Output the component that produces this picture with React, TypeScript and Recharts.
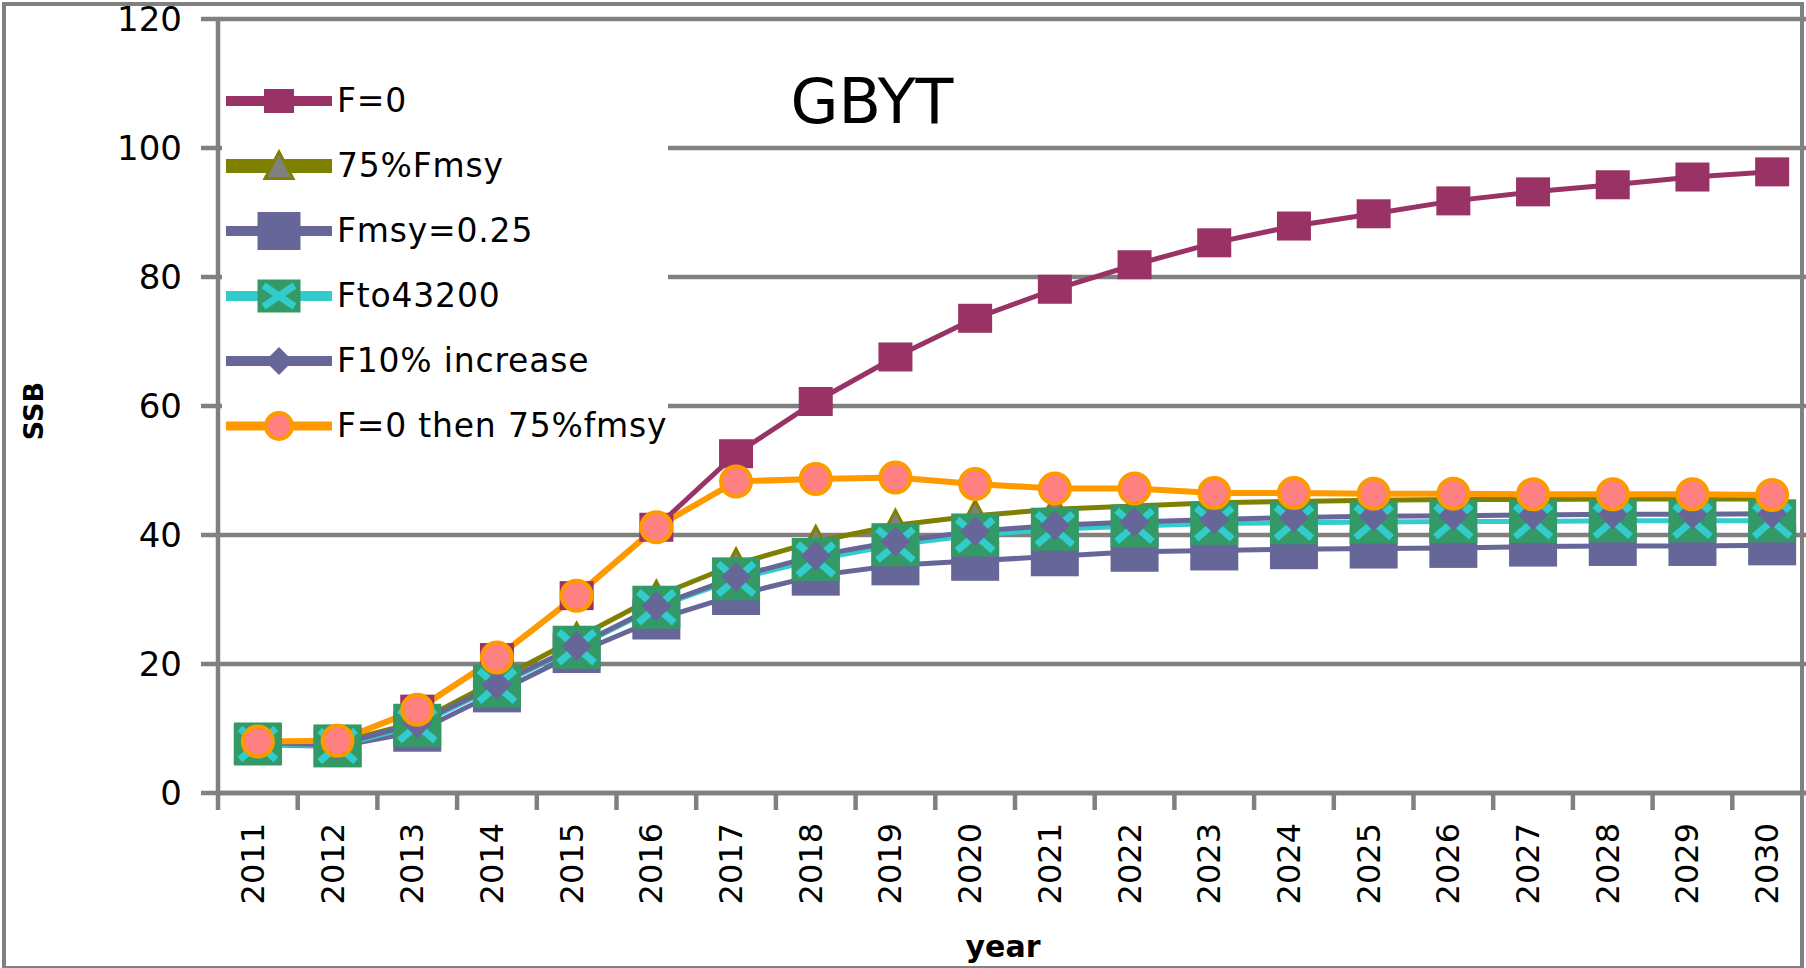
import { LineChart, Line, XAxis, YAxis, CartesianGrid, Legend } from 'recharts'

const years = ['2011', '2012', '2013', '2014', '2015', '2016', '2017', '2018', '2019', '2020',
    '2021', '2022', '2023', '2024', '2025', '2026', '2027', '2028', '2029', '2030']

const f0 = [8, 8, 13, 21, 30.6, 41.2, 52.6, 60.7, 67.6, 73.6, 78.1, 81.9, 85.3, 87.9, 89.8, 91.8, 93.2, 94.3, 95.5, 96.3]
const f75 = [8, 7.8, 11, 17.5, 24, 30.5, 35.5, 39, 41.5, 43, 44, 44.5, 45, 45.2, 45.4, 45.5, 45.5, 45.6, 45.6, 45.6]
const fmsy = [7.5, 7.2, 9.5, 15.6, 21.7, 26.9, 30.7, 33.7, 35.3, 36, 36.7, 37.4, 37.6, 37.8, 37.9, 38, 38.2, 38.3, 38.3, 38.4]
const fto = [7.6, 7.3, 10.5, 16.6, 22.6, 28.8, 33.2, 36.2, 38.5, 40, 40.9, 41.4, 41.8, 41.9, 42, 42.1, 42.1, 42.2, 42.2, 42.2]
const f10 = [7.8, 7.5, 10.8, 16.8, 22.8, 29, 33.5, 36.8, 39, 40.6, 41.5, 42, 42.4, 42.7, 42.9, 43, 43.1, 43.2, 43.2, 43.3]
const f0then = [8, 8.1, 12.9, 21, 30.6, 41.2, 48.3, 48.7, 48.9, 47.9, 47.2, 47.2, 46.5, 46.5, 46.4, 46.4, 46.3, 46.3, 46.3, 46.2]

const yTicks = [0, 20, 40, 60, 80, 100, 120]

const data = years.map((year, i) => ({
    year,
    f0: f0[i],
    f75: f75[i],
    fmsy: fmsy[i],
    fto: fto[i],
    f10: f10[i],
    f0then: f0then[i],
}))

const CHART_W = 1812
const CHART_H = 968
const AXIS_W = 218
const BAND = (CHART_W - AXIS_W) / years.length
const GRID = '#808080'
const FONT = '"DejaVu Sans", Verdana, sans-serif'

// marker shapes, shared by plot and legend
const drawSquare = (cx: number, cy: number, w: number, h: number, fill: string) => (
    <rect x={cx - w / 2} y={cy - h / 2} width={w} height={h} fill={fill} />
)
const drawTriangle = (cx: number, cy: number, s: number) => (
    <polygon
        points={`${cx},${cy - s} ${cx + s},${cy + s * 0.9} ${cx - s},${cy + s * 0.9}`}
        fill="#808080"
        stroke="#808000"
        strokeWidth={3}
    />
)
const drawCross = (cx: number, cy: number, w: number, h: number) => (
    <g>
        <rect x={cx - w / 2} y={cy - h / 2} width={w} height={h} fill="#339966" />
        <path
            d={`M${cx - w / 2 + 6},${cy - h / 2 + 6}L${cx + w / 2 - 6},${cy + h / 2 - 6}M${cx + w / 2 - 6},${cy - h / 2 + 6}L${cx - w / 2 + 6},${cy + h / 2 - 6}`}
            stroke="#33CCCC"
            strokeWidth={7}
        />
    </g>
)
const drawDiamond = (cx: number, cy: number, s: number) => (
    <polygon points={`${cx},${cy - s} ${cx + s},${cy} ${cx},${cy + s} ${cx - s},${cy}`} fill="#666699" />
)
const drawCircle = (cx: number, cy: number, r: number) => (
    <circle cx={cx} cy={cy} r={r} fill="#FF8080" stroke="#FF9900" strokeWidth={4} />
)

const dotOf = (draw: (cx: number, cy: number) => any) => (p: any) =>
    p.cx == null || p.cy == null ? <g key={p.index} /> : <g key={p.index}>{draw(p.cx, p.cy)}</g>

const series = [
    { key: 'f0', name: 'F=0', color: '#993366', width: 5, dot: (x: number, y: number) => drawSquare(x, y, 34, 29, '#993366'), icon: (x: number, y: number) => drawSquare(x, y, 30, 24, '#993366'), legendW: 10 },
    { key: 'f75', name: '75%Fmsy', color: '#808000', width: 5, dot: (x: number, y: number) => drawTriangle(x, y, 15), icon: (x: number, y: number) => drawTriangle(x, y, 14), legendW: 14 },
    { key: 'fmsy', name: 'Fmsy=0.25', color: '#666699', width: 5, dot: (x: number, y: number) => drawSquare(x, y, 48, 40, '#666699'), icon: (x: number, y: number) => drawSquare(x, y, 43, 38, '#666699'), legendW: 10 },
    { key: 'fto', name: 'Fto43200', color: '#33CCCC', width: 5, dot: (x: number, y: number) => drawCross(x, y, 48, 43), icon: (x: number, y: number) => drawCross(x, y, 43, 33), legendW: 10 },
    { key: 'f10', name: 'F10% increase', color: '#666699', width: 5, dot: (x: number, y: number) => drawDiamond(x, y, 15), icon: (x: number, y: number) => drawDiamond(x, y, 14), legendW: 10 },
    { key: 'f0then', name: 'F=0 then 75%fmsy', color: '#FF9900', width: 6, dot: (x: number, y: number) => drawCircle(x, y, 15), icon: (x: number, y: number) => drawCircle(x, y, 13), legendW: 9 },
]

function YearTick(props: any) {
    const { x, y, payload, index } = props
    const tx = x + 6
    const ty = y + 30
    return (
        <g>
            <line x1={x - BAND / 2} y1={y} x2={x - BAND / 2} y2={y + 17} stroke={GRID} strokeWidth={4.5} />
            {index === years.length - 1 && (
                <line x1={x + BAND / 2} y1={y} x2={x + BAND / 2} y2={y + 17} stroke={GRID} strokeWidth={4.5} />
            )}
            <text x={tx} y={ty} transform={`rotate(-90 ${tx} ${ty})`} textAnchor="end" fontSize={32} fontFamily={FONT} fill="#000">
                {payload.value}
            </text>
        </g>
    )
}

function ChartLegend() {
    return (
        <div style={{ paddingTop: 28, fontFamily: FONT }}>
            {series.map((s) => (
                <div key={s.key} style={{ display: 'flex', alignItems: 'center', height: 65 }}>
                    <svg width={112} height={50} style={{ flex: 'none' }}>
                        <line x1={4} y1={25} x2={110} y2={25} stroke={s.color} strokeWidth={s.legendW} />
                        {s.icon(57, 25)}
                    </svg>
                    <span style={{ fontSize: 33, letterSpacing: 0.8, color: '#000', marginLeft: 3, whiteSpace: 'nowrap' }}>{s.name}</span>
                </div>
            ))}
        </div>
    )
}

export default function App() {
    return (
        <div style={{ position: 'absolute', left: 0, top: 0, width: 1806, height: 968, overflow: 'hidden', background: '#fff' }}>
            <LineChart
                width={CHART_W}
                height={CHART_H}
                data={data}
                margin={{ top: 19, right: 0, bottom: 25, left: 0 }}
            >
                <CartesianGrid horizontal vertical={false} stroke={GRID} strokeWidth={4.5} />
                <XAxis
                    dataKey="year"
                    height={150}
                    interval={0}
                    padding={{ left: BAND / 2, right: BAND / 2 }}
                    tickSize={0}
                    tickMargin={0}
                    tickLine={false}
                    axisLine={{ stroke: GRID, strokeWidth: 4.5 }}
                    tick={<YearTick />}
                />
                <YAxis
                    width={AXIS_W}
                    domain={[0, 120]}
                    ticks={yTicks}
                    interval={0}
                    tickSize={17}
                    tickMargin={19}
                    axisLine={{ stroke: GRID, strokeWidth: 4.5 }}
                    tickLine={{ stroke: GRID, strokeWidth: 4.5 }}
                    tick={{ fill: '#000', fontSize: 34, fontFamily: FONT }}
                />
                <Legend
                    layout="vertical"
                    align="center"
                    verticalAlign="middle"
                    content={<ChartLegend />}
                    wrapperStyle={{ left: 222, top: 40, width: 446, height: 420, background: '#fff' }}
                />
                {series.map((s) => (
                    <Line
                        key={s.key}
                        type="linear"
                        dataKey={s.key}
                        name={s.name}
                        stroke={s.color}
                        strokeWidth={s.width}
                        dot={dotOf(s.dot)}
                        activeDot={false}
                        isAnimationActive={false}
                    />
                ))}
            </LineChart>

            <svg width={1806} height={968} style={{ position: 'absolute', left: 0, top: 0, pointerEvents: 'none' }}>
                <text x={872} y={123} textAnchor="middle" fontSize={62} fontFamily={FONT} fill="#000">GBYT</text>
                <text x={1003} y={957} textAnchor="middle" fontSize={30} fontWeight="bold" fontFamily={FONT} fill="#000">year</text>
                <text x={43} y={411} transform="rotate(-90 43 411)" textAnchor="middle" fontSize={27} fontWeight="bold" fontFamily={FONT} fill="#000">SSB</text>
            </svg>

            <div
                style={{
                    position: 'absolute',
                    left: 2,
                    top: 2,
                    width: 1802,
                    height: 968,
                    border: `4.5px solid ${GRID}`,
                    boxSizing: 'border-box',
                    pointerEvents: 'none',
                }}
            />
        </div>
    )
}
